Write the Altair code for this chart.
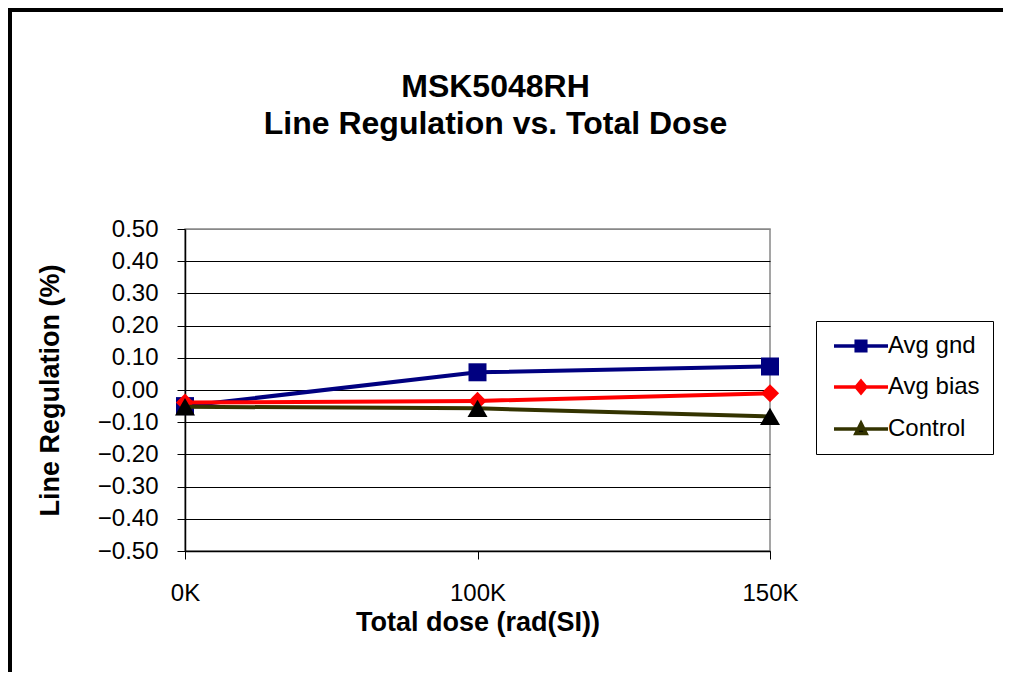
import altair as alt
import pandas as pd

# ---- data ----
doses = ["0K", "100K", "150K"]
series_names = ["Avg gnd", "Avg bias", "Control"]
avg_gnd = [-0.050, 0.055, 0.073]
avg_bias = [-0.039, -0.034, -0.010]
control = [-0.052, -0.057, -0.082]
y_ticks = [-0.5, -0.4, -0.3, -0.2, -0.1, 0.0, 0.1, 0.2, 0.3, 0.4, 0.5]

rows = []
for name, vals in zip(series_names, [avg_gnd, avg_bias, control]):
    for d, v in zip(doses, vals):
        rows.append({"dose": d, "series": name, "value": v})
df = pd.DataFrame(rows)

FONT = "Liberation Sans"
line_colors = ["#000080", "#FF0000", "#333300"]
marker_colors = ["#000080", "#FF0000", "#000000"]
marker_shapes = ["square", "diamond", "triangle-up"]
marker_sizes = [324, 330, 400]
legend_paths = [
    "M-4.5,0L4.5,0M-0.8,-0.8L0.8,-0.8L0.8,0.8L-0.8,0.8Z",
    "M-4.5,0L4.5,0M0,-0.95L0.8,0L0,0.95L-0.8,0Z",
    "M-4.5,0L4.5,0M0,-0.95L0.85,0.75L-0.85,0.75Z",
]

W, H = 585, 322

x_enc = alt.X(
    "dose:N",
    scale=alt.Scale(domain=doses, type="point", padding=0),
    title="Total dose (rad(SI))",
    axis=alt.Axis(
        labelAngle=0, labelFontSize=24, labelFont=FONT, labelColor="black",
        labelPadding=22, tickSize=8, tickColor="black", domainColor="black",
        domainWidth=1.5,
        gridColor={"condition": {"test": "datum.value === '150K'", "value": "#888888"}, "value": "#000000"},
        gridWidth=1,
        titleFontSize=27, titleFont=FONT, titleFontWeight="bold", titleColor="black",
        titlePadding=4,
    ),
)
y_enc = alt.Y(
    "value:Q",
    scale=alt.Scale(domain=[-0.5, 0.5], nice=False, zero=False),
    title="Line Regulation (%)",
    axis=alt.Axis(
        values=y_ticks, format=".2f", labelFontSize=24, labelFont=FONT,
        labelColor="black", labelPadding=19, tickSize=8, tickColor="black",
        domainColor="black", domainWidth=1.5,
        gridColor={"condition": {"test": "datum.value >= 0.49", "value": "#888888"}, "value": "#000000"},
        gridWidth=1,
        titleFontSize=27, titleFont=FONT, titleFontWeight="bold", titleColor="black",
        titlePadding=33,
    ),
)

base = alt.Chart(df)

layers = []
for name, shp, sz, lcol, mcol in zip(series_names, marker_shapes, marker_sizes, line_colors, marker_colors):
    sub = base.transform_filter(alt.datum.series == name)
    layers.append(sub.mark_line(strokeWidth=4, color=lcol).encode(x=x_enc, y=y_enc))
    layers.append(
        sub.mark_point(filled=True, opacity=1, shape=shp, size=sz, color=mcol)
        .encode(x=x_enc, y=y_enc)
    )

leg = alt.Legend(
    title=None, orient="none", legendX=631, legendY=92, padding=13,
    symbolSize=144, symbolStrokeWidth=3.5, symbolOpacity=1, symbolOffset=20,
    labelOffset=15, labelFontSize=24, labelFont=FONT, labelColor="black",
    rowPadding=16, strokeColor="black", fillColor="white",
)
legend_layer = base.mark_point(opacity=0, filled=True, size=1).encode(
    x=x_enc, y=y_enc,
    fill=alt.Fill("series:N", scale=alt.Scale(domain=series_names, range=marker_colors), legend=leg),
    stroke=alt.Stroke("series:N", scale=alt.Scale(domain=series_names, range=line_colors), legend=leg),
    shape=alt.Shape("series:N", scale=alt.Scale(domain=series_names, range=legend_paths), legend=leg),
)
layers.append(legend_layer)

frame_df = pd.DataFrame({"k": [0]})
frame_left = alt.Chart(frame_df).mark_rule(color="black", strokeWidth=4).encode(
    x=alt.value(-175), y=alt.value(-221), y2=alt.value(H + 130)
)
frame_top = alt.Chart(frame_df).mark_rule(color="black", strokeWidth=4).encode(
    x=alt.value(-177), x2=alt.value(W + 240), y=alt.value(-219)
)
layers += [frame_left, frame_top]

chart = alt.layer(*layers).properties(
    width=W, height=H,
    title=alt.Title(
        ["MSK5048RH", "Line Regulation vs. Total Dose"],
        fontSize=32, font=FONT, fontWeight="bold", color="black",
        anchor="middle", dx=18, lineHeight=37, offset=-135,
    ),
    autosize="none",
    padding={"left": 177, "top": 221, "right": 233, "bottom": 121},
    background="white",
).configure_view(stroke="#888888", strokeWidth=1.5)

chart.save("out.html", embed_options={"renderer": "svg", "actions": False})
